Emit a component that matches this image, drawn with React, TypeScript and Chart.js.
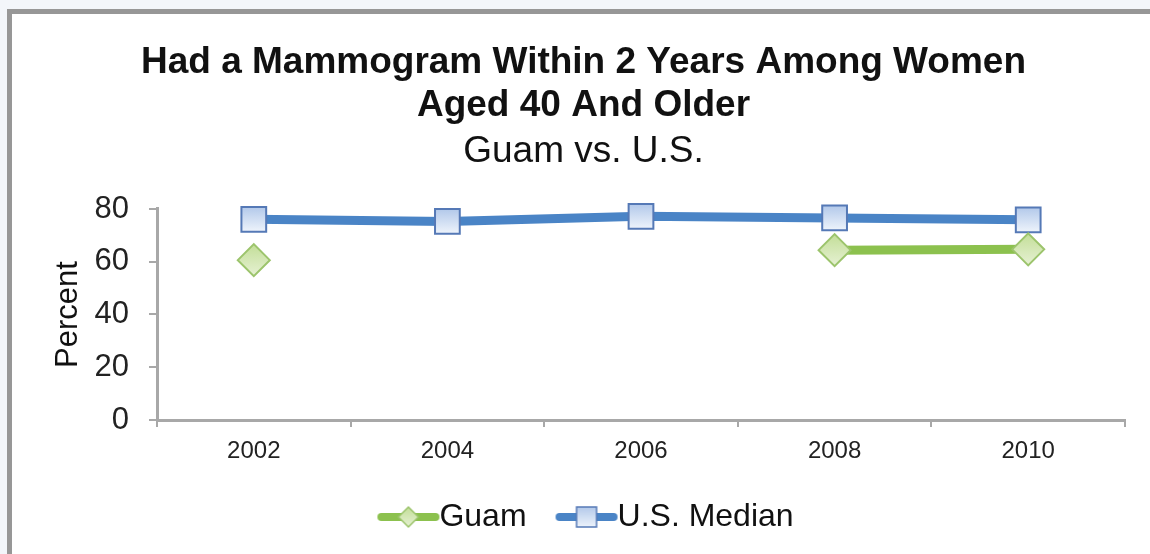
import React, { useEffect, useRef } from "react";
import { Chart, registerables } from "chart.js";

Chart.register(...registerables);

// ---- data ----
const years = ["2002", "2004", "2006", "2008", "2010"];
const guamValues: (number | null)[] = [60.6, null, null, 64.4, 64.7];
const usMedianValues: number[] = [76.1, 75.3, 77.2, 76.6, 75.9];
const yTickValues = [0, 20, 40, 60, 80];
const titleLines = ["Had a Mammogram Within 2 Years Among Women", "Aged 40 And Older"];
const subtitleText = "Guam vs. U.S.";
const yAxisTitle = "Percent";
const seriesNames = ["Guam", "U.S. Median"];

const FONT = "'Liberation Sans', Arial, Helvetica, sans-serif";

const GREEN_LINE = "#8cc14e";
const GREEN_BORDER = "#9cc46c";
const GREEN_TOP = "#c3de98";
const GREEN_BOTTOM = "#e6f1d3";
const BLUE_LINE = "#4a84c6";
const BLUE_BORDER = "#5579b6";
const BLUE_TOP = "#b3c9ea";
const BLUE_BOTTOM = "#edf3fb";
const AXIS = "#a8a8a8";

function markerFill(top: string, bottom: string, half: number) {
  return (ctx: any) => {
    const chart = ctx.chart;
    if (ctx.type !== "data" || !chart.chartArea || !chart.scales || !chart.scales.y) return bottom;
    const v = ctx.parsed ? ctx.parsed.y : null;
    if (v === null || v === undefined || !isFinite(v)) return bottom;
    const y = chart.scales.y.getPixelForValue(v);
    if (!isFinite(y)) return bottom;
    const g = chart.ctx.createLinearGradient(0, y - half, 0, y + half);
    g.addColorStop(0, top);
    g.addColorStop(1, bottom);
    return g;
  };
}

// legend symbol: a short line with the marker, drawn into an image
function legendImage(kind: "diamond" | "square"): HTMLCanvasElement {
  const c = document.createElement("canvas");
  c.width = 86;
  c.height = 30;
  const g = c.getContext("2d")!;
  const cy = 15;
  const x0 = 22;
  const x1 = 84;
  const cx = (x0 + x1) / 2;
  g.lineCap = "round";
  g.lineWidth = 8;
  g.strokeStyle = kind === "diamond" ? GREEN_LINE : BLUE_LINE;
  g.beginPath();
  g.moveTo(x0 + 4, cy);
  g.lineTo(x1 - 4, cy);
  g.stroke();
  g.lineWidth = 1.5;
  if (kind === "diamond") {
    const r = 10;
    const gr = g.createLinearGradient(0, cy - r, 0, cy + r);
    gr.addColorStop(0, GREEN_TOP);
    gr.addColorStop(1, GREEN_BOTTOM);
    g.fillStyle = gr;
    g.strokeStyle = GREEN_BORDER;
    g.beginPath();
    g.moveTo(cx - r, cy);
    g.lineTo(cx, cy - r);
    g.lineTo(cx + r, cy);
    g.lineTo(cx, cy + r);
    g.closePath();
    g.fill();
    g.stroke();
  } else {
    const s = 10;
    const gr = g.createLinearGradient(0, cy - s, 0, cy + s);
    gr.addColorStop(0, BLUE_TOP);
    gr.addColorStop(1, BLUE_BOTTOM);
    g.fillStyle = gr;
    g.strokeStyle = BLUE_BORDER;
    g.beginPath();
    g.rect(cx - s, cy - s, 2 * s, 2 * s);
    g.fill();
    g.stroke();
  }
  return c;
}

export default function App() {
  const canvasRef = useRef<HTMLCanvasElement | null>(null);

  useEffect(() => {
    if (!canvasRef.current) return;
    const imgs = [legendImage("diamond"), legendImage("square")];
    const chart = new Chart(canvasRef.current, {
      type: "line",
      data: {
        labels: years,
        datasets: [
          {
            label: seriesNames[0],
            data: guamValues,
            borderColor: GREEN_LINE,
            borderWidth: 9,
            pointStyle: "rectRot",
            pointRadius: 16,
            pointBorderWidth: 2,
            pointBorderColor: GREEN_BORDER,
            pointBackgroundColor: markerFill(GREEN_TOP, GREEN_BOTTOM, 16),
            spanGaps: false,
            tension: 0,
            clip: false,
          },
          {
            label: seriesNames[1],
            data: usMedianValues,
            borderColor: BLUE_LINE,
            borderWidth: 9,
            pointStyle: "rect",
            pointRadius: 17.5,
            pointBorderWidth: 2,
            pointBorderColor: BLUE_BORDER,
            pointBackgroundColor: markerFill(BLUE_TOP, BLUE_BOTTOM, 12),
            tension: 0,
            clip: false,
          },
        ],
      },
      options: {
        responsive: false,
        animation: false,
        events: [],
        layout: { padding: { left: 30, right: 25, top: 0, bottom: 11 } },
        plugins: {
          tooltip: { enabled: false },
          title: {
            display: true,
            text: titleLines,
            color: "#111",
            font: { family: FONT, size: 37, weight: "bold", lineHeight: 1.17 },
            padding: { top: 27, bottom: 0 },
          },
          subtitle: {
            display: true,
            text: subtitleText,
            color: "#111",
            font: { family: FONT, size: 37, lineHeight: 1.2 },
            padding: { top: 2, bottom: 35 },
          },
          legend: {
            display: true,
            position: "bottom",
            labels: {
              usePointStyle: true,
              pointStyleWidth: 50,
              padding: 25,
              color: "#111",
              font: { family: FONT, size: 32 },
              generateLabels: (ch: any) => {
                const items = (Chart as any).defaults.plugins.legend.labels.generateLabels(ch);
                items.forEach((it: any, i: number) => {
                  it.pointStyle = imgs[i];
                });
                return items;
              },
            },
          },
        },
        scales: {
          x: {
            type: "category",
            offset: true,
            grid: {
              display: true,
              offset: true,
              drawOnChartArea: false,
              drawTicks: true,
              tickLength: 7,
              color: AXIS,
              lineWidth: 2,
            },
            border: { display: true, color: AXIS, width: 3 },
            ticks: { color: "#222", font: { family: FONT, size: 24 }, padding: 10 },
            afterFit: (s: any) => {
              s.height = 56;
            },
          },
          y: {
            min: 0,
            max: 80,
            afterBuildTicks: (s: any) => {
              s.ticks = yTickValues.map((v) => ({ value: v }));
            },
            grid: {
              display: true,
              drawOnChartArea: false,
              drawTicks: true,
              tickLength: 8,
              color: AXIS,
              lineWidth: 2,
            },
            border: { display: true, color: AXIS, width: 3 },
            ticks: { color: "#222", font: { family: FONT, size: 31 }, padding: 20 },
            title: {
              display: true,
              text: yAxisTitle,
              color: "#111",
              font: { family: FONT, size: 31, lineHeight: 1.2 },
              padding: { top: 8, bottom: 0 },
            },
            afterFit: (s: any) => {
              s.width = 115;
            },
          },
        },
      } as any,
    });
    return () => chart.destroy();
  }, []);

  return (
    <div
      style={{
        position: "fixed",
        left: 0,
        top: 0,
        width: 1150,
        height: 554,
        background: "#f3f6fa",
        overflow: "hidden",
      }}
    >
      <div
        style={{
          position: "absolute",
          left: 7,
          top: 9,
          width: 1143,
          height: 545,
          boxSizing: "border-box",
          borderLeft: "5px solid #979797",
          borderTop: "5px solid #979797",
          background: "#ffffff",
        }}
      >
        <canvas
          ref={canvasRef}
          width={1138}
          height={540}
          style={{ display: "block", width: 1138, height: 540 }}
        />
      </div>
    </div>
  );
}
